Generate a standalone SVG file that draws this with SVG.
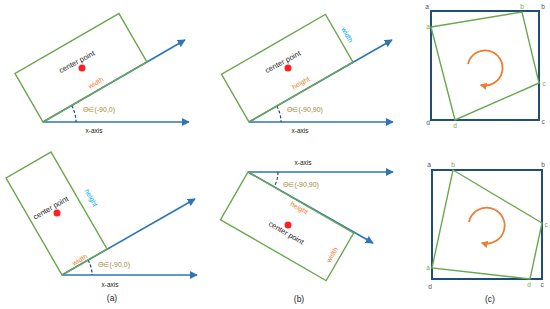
<svg xmlns="http://www.w3.org/2000/svg" width="550" height="309" viewBox="0 0 550 309">
<defs>
<style>
text{font-family:"Liberation Sans","Open Sans",sans-serif;}
.box{fill:none;stroke:#6AA84F;stroke-width:1.4;}
.ax{fill:none;stroke:#2E75B6;stroke-width:1.6;}
.sq{fill:none;stroke:#1F4E79;stroke-width:2;}
.dash{fill:none;stroke:#1F4E79;stroke-width:1.2;stroke-dasharray:3,2;}
.rot{fill:none;stroke:#ED7D31;stroke-width:1.8;}
.dot{fill:#FF1F1F;}
.cp{font-size:7.5px;fill:#222;text-anchor:middle;}
.xa{font-size:6.5px;fill:#222;text-anchor:middle;}
.ow{font-size:7px;fill:#ED7D31;text-anchor:middle;}
.cy{font-size:7px;fill:#00B0F0;text-anchor:middle;}
.th{font-size:7px;fill:#A8873A;}
.cap{font-size:8.5px;fill:#222;text-anchor:middle;}
.lk{font-size:6.5px;fill:#44546A;text-anchor:middle;}
.lg{font-size:6.5px;fill:#70AD47;text-anchor:middle;}
</style>
<marker id="ah" viewBox="0 0 10 10" refX="9" refY="5" markerWidth="5" markerHeight="5" orient="auto" markerUnits="strokeWidth">
<path d="M0,0 L10,5 L0,10 z" fill="#2E75B6"/>
</marker>
<marker id="oh" viewBox="0 0 10 10" refX="8" refY="5" markerWidth="4" markerHeight="4" orient="auto" markerUnits="strokeWidth">
<path d="M0,0 L10,5 L0,10 z" fill="#ED7D31"/>
</marker>
</defs>

<g id="connectors">
<line class="ax" x1="43" y1="122" x2="189" y2="122" marker-end="url(#ah)"/>
<line class="ax" x1="43" y1="122" x2="185" y2="40" marker-end="url(#ah)"/>
<path class="dash" d="M71.6,105.5 A33,33 0 0 1 76,122"/>
<line class="ax" x1="62" y1="275" x2="197" y2="275" marker-end="url(#ah)"/>
<line class="ax" x1="62" y1="275" x2="195" y2="199" marker-end="url(#ah)"/>
<path class="dash" d="M88,260 A30,30 0 0 1 92,275"/>
<line class="ax" x1="249" y1="122" x2="393" y2="122" marker-end="url(#ah)"/>
<line class="ax" x1="249" y1="122" x2="392" y2="40" marker-end="url(#ah)"/>
<path class="dash" d="M276.7,106 A32,32 0 0 1 281,122"/>
<line class="ax" x1="248" y1="172" x2="393" y2="172" marker-end="url(#ah)"/>
<line class="ax" x1="248" y1="172" x2="373" y2="243" marker-end="url(#ah)"/>
<path class="dash" d="M278,172 A30,30 0 0 1 274,187"/>
<path class="rot" d="M468,64 A17.5,17.5 0 1 1 481,85" marker-end="url(#oh)"/>
<path class="rot" d="M469,222 A18,18 0 1 1 482,243" marker-end="url(#oh)"/>
</g>

<g id="rect-a-top">
<rect class="box" x="0" y="-56" width="120" height="56" transform="translate(43,122) rotate(-30)"/>
<circle class="dot" cx="82" cy="68" r="3.5"/>
<text class="cp" transform="translate(78,64) rotate(-28)">center point</text>
<text class="ow" transform="translate(97,85) rotate(-30)">width</text>
<text class="th" x="83" y="112">Θ∈(-90,0)</text>
<text class="xa" x="94" y="133">x-axis</text>
</g>

<g id="rect-a-bottom">
<rect class="box" x="0" y="-112" width="52" height="112" transform="translate(62,275) rotate(-30)"/>
<circle class="dot" cx="57" cy="213" r="3.5"/>
<text class="cp" transform="translate(52,210) rotate(-30)">center point</text>
<text class="cy" transform="translate(89,199) rotate(60)">height</text>
<text class="ow" transform="translate(81,262) rotate(-30)">width</text>
<text class="th" x="98" y="267">Θ∈(-90,0)</text>
<text class="xa" x="110" y="287">x-axis</text>
<text class="cap" x="112" y="301">(a)</text>
</g>

<g id="rect-b-top">
<rect class="box" x="0" y="-55" width="120" height="55" transform="translate(249,122) rotate(-30)"/>
<circle class="dot" cx="288" cy="68" r="3.5"/>
<text class="cp" transform="translate(284,64) rotate(-28)">center point</text>
<text class="cy" transform="translate(345,36) rotate(60)">width</text>
<text class="ow" transform="translate(302,85) rotate(-30)">height</text>
<text class="th" x="287" y="112">Θ∈(-90,90)</text>
<text class="xa" x="300" y="133">x-axis</text>
</g>

<g id="rect-b-bottom">
<rect class="box" x="0" y="0" width="122" height="55" transform="translate(248,172) rotate(30)"/>
<circle class="dot" cx="288" cy="225" r="3.5"/>
<text class="cp" transform="translate(285,235) rotate(30)">center point</text>
<text class="ow" transform="translate(298,210) rotate(30)">height</text>
<text class="ow" transform="translate(334,256) rotate(-60)">width</text>
<text class="th" x="283" y="187">Θ∈(-90,90)</text>
<text class="xa" x="303" y="165">x-axis</text>
<text class="cap" x="299" y="302">(b)</text>
</g>

<g id="square-c-top">
<rect class="sq" x="431" y="11" width="108" height="109"/>
<polygon class="box" points="431,27 522,12 539,83 455,120"/>
<text class="lk" x="427" y="9">a</text>
<text class="lk" x="543" y="9">b</text>
<text class="lg" x="522" y="9">b</text>
<text class="lg" x="428" y="29">a</text>
<text class="lg" x="544" y="86">c</text>
<text class="lk" x="428" y="125">d</text>
<text class="lg" x="455" y="128">d</text>
<text class="lk" x="543" y="124">c</text>
</g>

<g id="square-c-bottom">
<rect class="sq" x="432" y="170" width="110" height="109"/>
<polygon class="box" points="453,170 542,223 530,279 432,268"/>
<text class="lk" x="429" y="167">a</text>
<text class="lg" x="453" y="167">b</text>
<text class="lk" x="543" y="167">b</text>
<text class="lg" x="546" y="227">c</text>
<text class="lg" x="428" y="270">a</text>
<text class="lk" x="430" y="289">d</text>
<text class="lg" x="529" y="287">d</text>
<text class="lk" x="542" y="287">c</text>
<text class="cap" x="490" y="302">(c)</text>
</g>
</svg>
